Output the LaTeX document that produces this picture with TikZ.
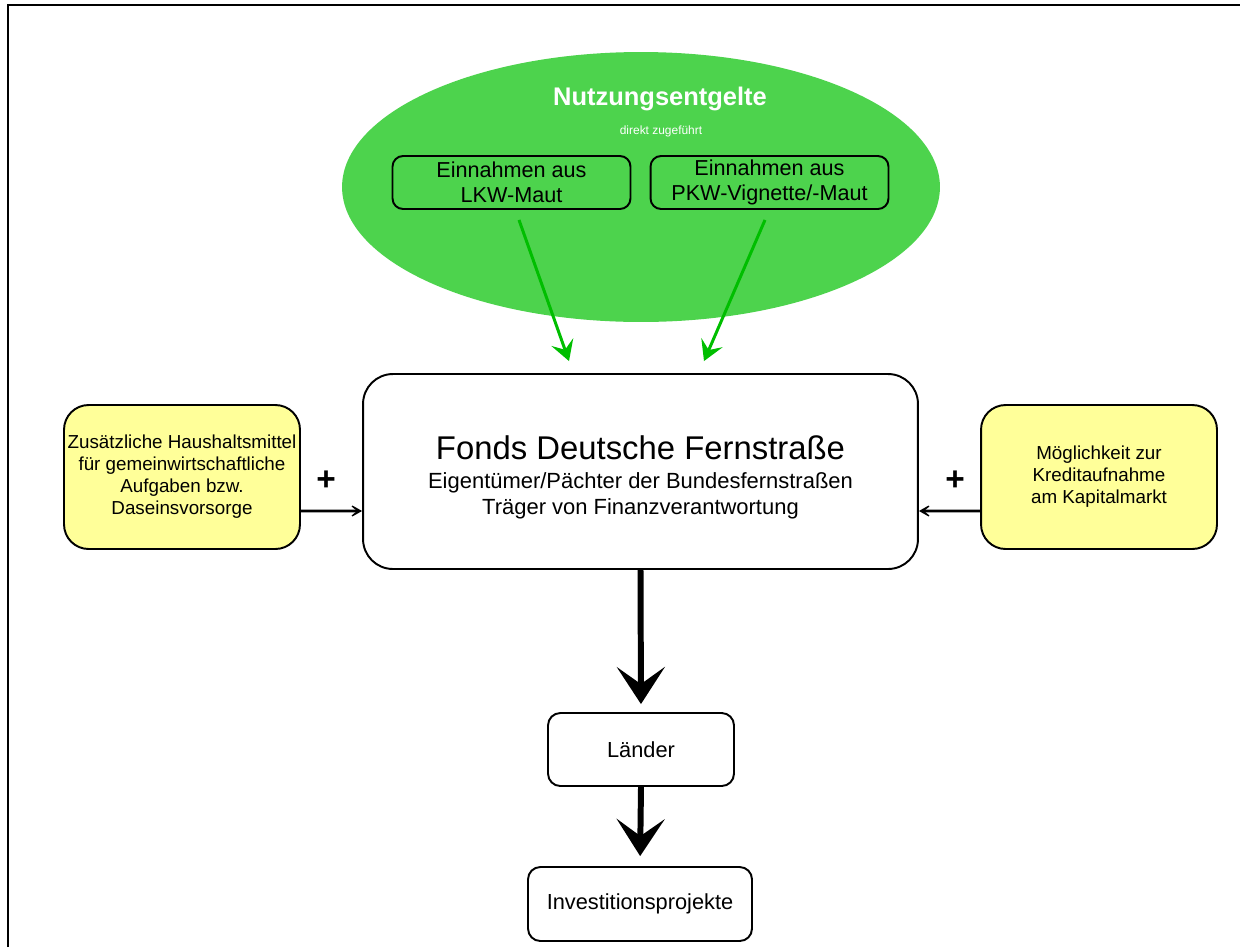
\documentclass[tikz,border=0pt]{standalone}
\usepackage{fontspec}
\setmainfont{Liberation Sans}
\usetikzlibrary{
    arrows.meta,
    shapes.geometric,
    positioning
}
\definecolor{feegreen}{RGB}{77,211,77}
\definecolor{flowgreen}{RGB}{0,190,0}
\definecolor{paleyellow}{RGB}{255,255,153}
\tikzset{
    srcbox/.style={draw, rounded corners=6pt, line width=1.1pt, align=center, inner sep=0pt,
        minimum width=4.76cm, minimum height=1.06cm, font=\fontsize{12.3}{14}\selectfont},
    mainbox/.style={draw, rounded corners=17pt, line width=1.1pt, align=center, inner sep=0pt,
        minimum width=11.1cm, minimum height=3.9cm, fill=white, font=\fontsize{12.5}{14.7}\selectfont},
    sidebox/.style={draw, rounded corners=14pt, line width=1.1pt, align=center, inner sep=0pt,
        minimum width=4.72cm, minimum height=2.88cm, fill=paleyellow, font=\fontsize{10.7}{12.5}\selectfont},
    stepbox/.style={draw, rounded corners=7pt, line width=1.1pt, align=center, inner sep=0pt,
        fill=white, font=\fontsize{12.4}{14}\selectfont},
    feed/.style={flowgreen, line width=1.7pt, -{Stealth[length=0.4cm, width=0.46cm, inset=0.16cm]}},
    extra/.style={line width=1.5pt, -{Stealth[length=0.32cm, width=0.36cm, inset=0.22cm]}},
    pass/.style={line width=3.4pt, -{Stealth[length=0.74cm, width=0.96cm, inset=0.34cm]}},
    plus/.style={font=\bfseries\fontsize{19}{20}\selectfont}
}
\begin{document}
\begin{tikzpicture}[x=0.02cm, y=-0.02cm]
    \useasboundingbox (0,0) rectangle (1240,947);
    \draw[line width=1.7pt] (8,947) -- (8,5) -- (1240,5);

    \node[ellipse, fill=feegreen, inner sep=0pt, minimum width=11.96cm, minimum height=5.4cm] (fees) at (641,187) {};
    \node[text=white, font=\bfseries\fontsize{14.5}{16}\selectfont] (feestitle) at (660,99) {Nutzungsentgelte};
    \node[text=white, font=\fontsize{6.8}{8}\selectfont] (feesnote) at (661,131) {direkt zugeführt};
    \node[srcbox] (lkw) at (511.5,182.5) {Einnahmen aus\\LKW-Maut};
    \node[srcbox] (pkw) at (769.5,182.5) {Einnahmen aus\\PKW-Vignette/-Maut};

    \node[mainbox] (fonds) at (640.5,471.5) {\rule{0pt}{20pt}{\fontsize{18.7}{22}\selectfont Fonds Deutsche Fernstraße}\\[2pt]
        Eigentümer/Pächter der Bundesfernstraßen\\Träger von Finanzverantwortung};
    \node[sidebox] (haushalt) at (182,477) {Zusätzliche Haushaltsmittel\\ für gemeinwirtschaftliche\\Aufgaben bzw.\\Daseinsvorsorge};
    \node[sidebox] (kredit) at (1099,477) {Möglichkeit zur\\Kreditaufnahme\\ am Kapitalmarkt};
    \node[plus] (plusl) at (326,481) {+};
    \node[plus] (plusr) at (955,481) {+};

    \node[stepbox, minimum width=3.72cm, minimum height=1.46cm] (laender) at (641,749.5) {Länder};
    \node[stepbox, minimum width=4.48cm, minimum height=1.48cm] (projekte) at (640,904) {Investitionsprojekte};

    \draw[feed] ([xshift=0.15cm, yshift=-0.2cm]lkw.south) -- ([xshift=-1.43cm, yshift=0.24cm]fonds.north);
    \draw[feed] ([xshift=-0.09cm, yshift=-0.2cm]pkw.south) -- ([xshift=1.27cm, yshift=0.24cm]fonds.north);
    \draw[extra] ([yshift=-0.68cm]haushalt.east) -- ([yshift=-0.79cm]fonds.west);
    \draw[extra] ([yshift=-0.68cm]kredit.west) -- ([yshift=-0.79cm]fonds.east);
    \draw[pass, shorten >=0.16cm] (fonds.south) -- (laender.north);
    \draw[pass, shorten >=0.2cm] (laender.south) -- (projekte.north);
\end{tikzpicture}
\end{document}
